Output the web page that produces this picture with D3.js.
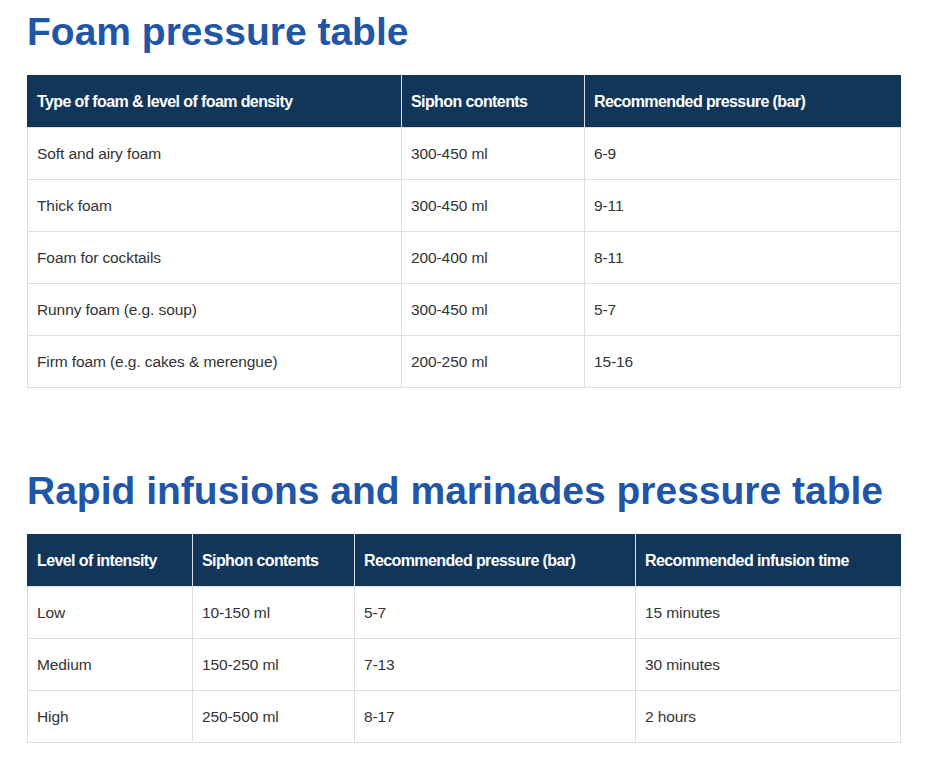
<!DOCTYPE html><html><head><meta charset="utf-8"><script src="https://cdn.jsdelivr.net/npm/d3@7"></script>
<style>body{margin:0;background:#fff}</style></head><body><script>
const title1="Foam pressure table";
const headers1=["Type of foam & level of foam density","Siphon contents","Recommended pressure (bar)"];
const rows1=[["Soft and airy foam","300-450 ml","6-9"],["Thick foam","300-450 ml","9-11"],["Foam for cocktails","200-400 ml","8-11"],["Runny foam (e.g. soup)","300-450 ml","5-7"],["Firm foam (e.g. cakes & merengue)","200-250 ml","15-16"]];
const title2="Rapid infusions and marinades pressure table";
const headers2=["Level of intensity","Siphon contents","Recommended pressure (bar)","Recommended infusion time"];
const rows2=[["Low","10-150 ml","5-7","15 minutes"],["Medium","150-250 ml","7-13","30 minutes"],["High","250-500 ml","8-17","2 hours"]];
const svg=d3.select("body").append("svg").attr("width",931).attr("height",761);
function table(title,headers,rows,ty,top,edges){
  svg.append("text").attr("x",27).attr("y",ty).text(title).attr("font-family","Liberation Sans, Arial").attr("font-weight","bold").attr("font-size",39).attr("fill","#1f56a8");
  const x=d3.scaleOrdinal().domain(d3.range(headers.length+1)).range(edges);
  const y=d3.scaleLinear().domain([0,1]).range([top,top+52]);
  const g=svg.append("g");
  g.append("rect").attr("x",edges[0]).attr("y",y(0)).attr("width",edges[edges.length-1]-edges[0]).attr("height",52).attr("fill","#12365a");
  headers.forEach((h,i)=>g.append("text").attr("x",x(i)+10).attr("y",y(0.5)+6).text(h).attr("fill","#fff").attr("font-family","Liberation Sans, Arial").attr("font-weight","bold").attr("font-size",16).attr("letter-spacing",-0.6));
  rows.forEach((r,j)=>{
    g.append("rect").attr("x",edges[0]+0.5).attr("y",y(j+1)+0.5).attr("width",edges[edges.length-1]-edges[0]-1).attr("height",52).attr("fill","#fff").attr("stroke","#dedede");
    r.forEach((c,i)=>g.append("text").attr("x",x(i)+10).attr("y",y(j+1.5)+6).text(c).attr("fill","#333").attr("font-family","Liberation Sans, Arial").attr("font-size",15.5).attr("letter-spacing",-0.1));
  });
  edges.slice(1,-1).forEach(e=>g.append("line").attr("x1",e+0.5).attr("x2",e+0.5).attr("y1",y(0)).attr("y2",y(rows.length+1)).attr("stroke","#dedede").attr("stroke-opacity",1));
}
table(title1,headers1,rows1,45,75,[27,401,584,901]);
table(title2,headers2,rows2,504,534,[27,192,354,635,901]);
</script></body></html>
